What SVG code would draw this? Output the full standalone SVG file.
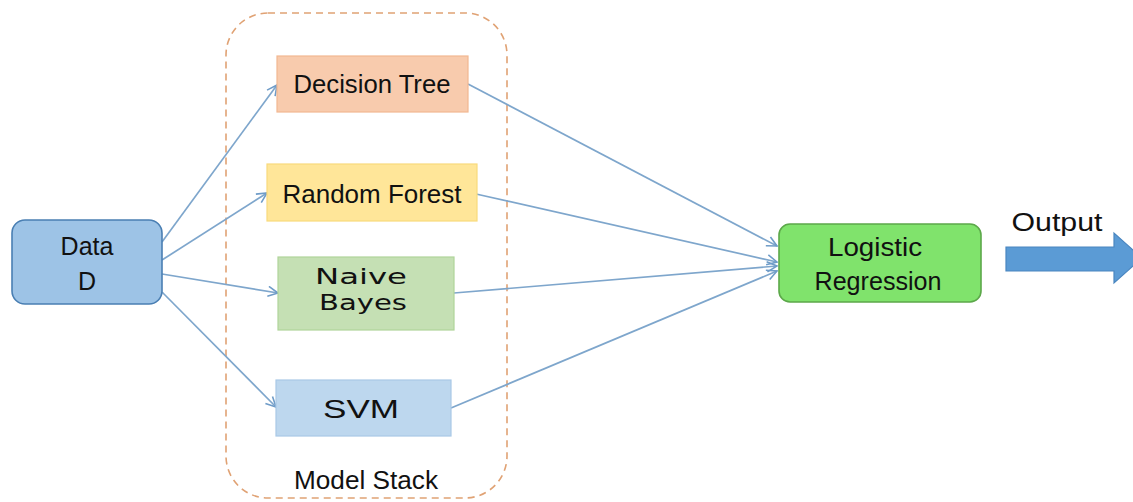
<svg xmlns="http://www.w3.org/2000/svg" width="1133" height="502" viewBox="0 0 1133 502">
<defs>
<marker id="arr" viewBox="0 0 12 12" refX="11" refY="6" markerWidth="12" markerHeight="12" markerUnits="userSpaceOnUse" orient="auto">
<path d="M1,1 L11,6 L1,11" fill="none" stroke="#6f9cc8" stroke-width="1.6"/>
</marker>
<style>
.t{font-family:"Liberation Sans",Arial,sans-serif;font-size:25px;fill:#111;text-anchor:middle}
.v{font-family:"DejaVu Sans",Verdana,sans-serif;fill:#111;text-anchor:middle}
.c{fill:none;stroke:#7ea6cc;stroke-width:1.7;marker-end:url(#arr)}
</style>
</defs>
<rect width="1133" height="502" fill="#ffffff"/>
<g id="model-stack">
<rect x="226" y="13" width="281" height="485" rx="42" fill="none" stroke="#e0a274" stroke-width="1.6" stroke-dasharray="7,5"/>
<text class="t" x="366" y="489" textLength="144" lengthAdjust="spacingAndGlyphs">Model Stack</text>
</g>
<g id="connectors">
<line class="c" x1="162" y1="242" x2="277" y2="85"/>
<line class="c" x1="162" y1="260" x2="267" y2="193"/>
<line class="c" x1="162" y1="274" x2="278" y2="293"/>
<line class="c" x1="162" y1="292" x2="276" y2="407"/>
<line class="c" x1="468" y1="84" x2="777" y2="246"/>
<line class="c" x1="476" y1="194" x2="777" y2="262"/>
<line class="c" x1="454" y1="293" x2="777" y2="266"/>
<line class="c" x1="451" y1="408" x2="777" y2="271"/>
</g>
<g id="data-d">
<rect x="12" y="220" width="150" height="84" rx="13" fill="#9dc3e6" stroke="#4a7fb3" stroke-width="1.6"/>
<text class="t" x="87" y="255" font-size="26">Data</text>
<text class="t" x="87" y="290" font-size="26">D</text>
</g>
<g id="decision-tree">
<rect x="277" y="56" width="191" height="56" fill="#f8cbad" stroke="#f2b892" stroke-width="1.2"/>
<text class="t" x="372" y="93" textLength="157" lengthAdjust="spacingAndGlyphs">Decision Tree</text>
</g>
<g id="random-forest">
<rect x="267" y="164" width="210" height="57" fill="#ffe699" stroke="#f8da7c" stroke-width="1.2"/>
<text class="t" x="372" y="203" textLength="179" lengthAdjust="spacingAndGlyphs">Random Forest</text>
</g>
<g id="naive-bayes">
<rect x="278" y="257" width="176" height="73" fill="#c5e0b4" stroke="#b0d49a" stroke-width="1.2"/>
<text class="v" x="361" y="284" font-size="21" textLength="92" lengthAdjust="spacingAndGlyphs">Naive</text>
<text class="v" x="363" y="310" font-size="21" textLength="88" lengthAdjust="spacingAndGlyphs">Bayes</text>
</g>
<g id="svm">
<rect x="276" y="380" width="175" height="56" fill="#bdd7ee" stroke="#a9c9e6" stroke-width="1.2"/>
<text class="t" x="361" y="418" font-size="29" textLength="76" lengthAdjust="spacingAndGlyphs">SVM</text>
</g>
<g id="logistic-regression">
<rect x="779" y="224" width="202" height="78" rx="11" fill="#80e36c" stroke="#5ca84a" stroke-width="1.6"/>
<text class="t" x="875" y="256" font-size="26" textLength="94" lengthAdjust="spacingAndGlyphs">Logistic</text>
<text class="t" x="878" y="290" font-size="26" textLength="127" lengthAdjust="spacingAndGlyphs">Regression</text>
</g>
<g id="output">
<text class="t" x="1057" y="231" textLength="91" lengthAdjust="spacingAndGlyphs">Output</text>
<path d="M1006,247 L1114,247 L1114,233 L1142,258 L1114,283 L1114,271 L1006,271 Z" fill="#5b9bd5" stroke="#4a86c0" stroke-width="1.2"/>
</g>
</svg>
